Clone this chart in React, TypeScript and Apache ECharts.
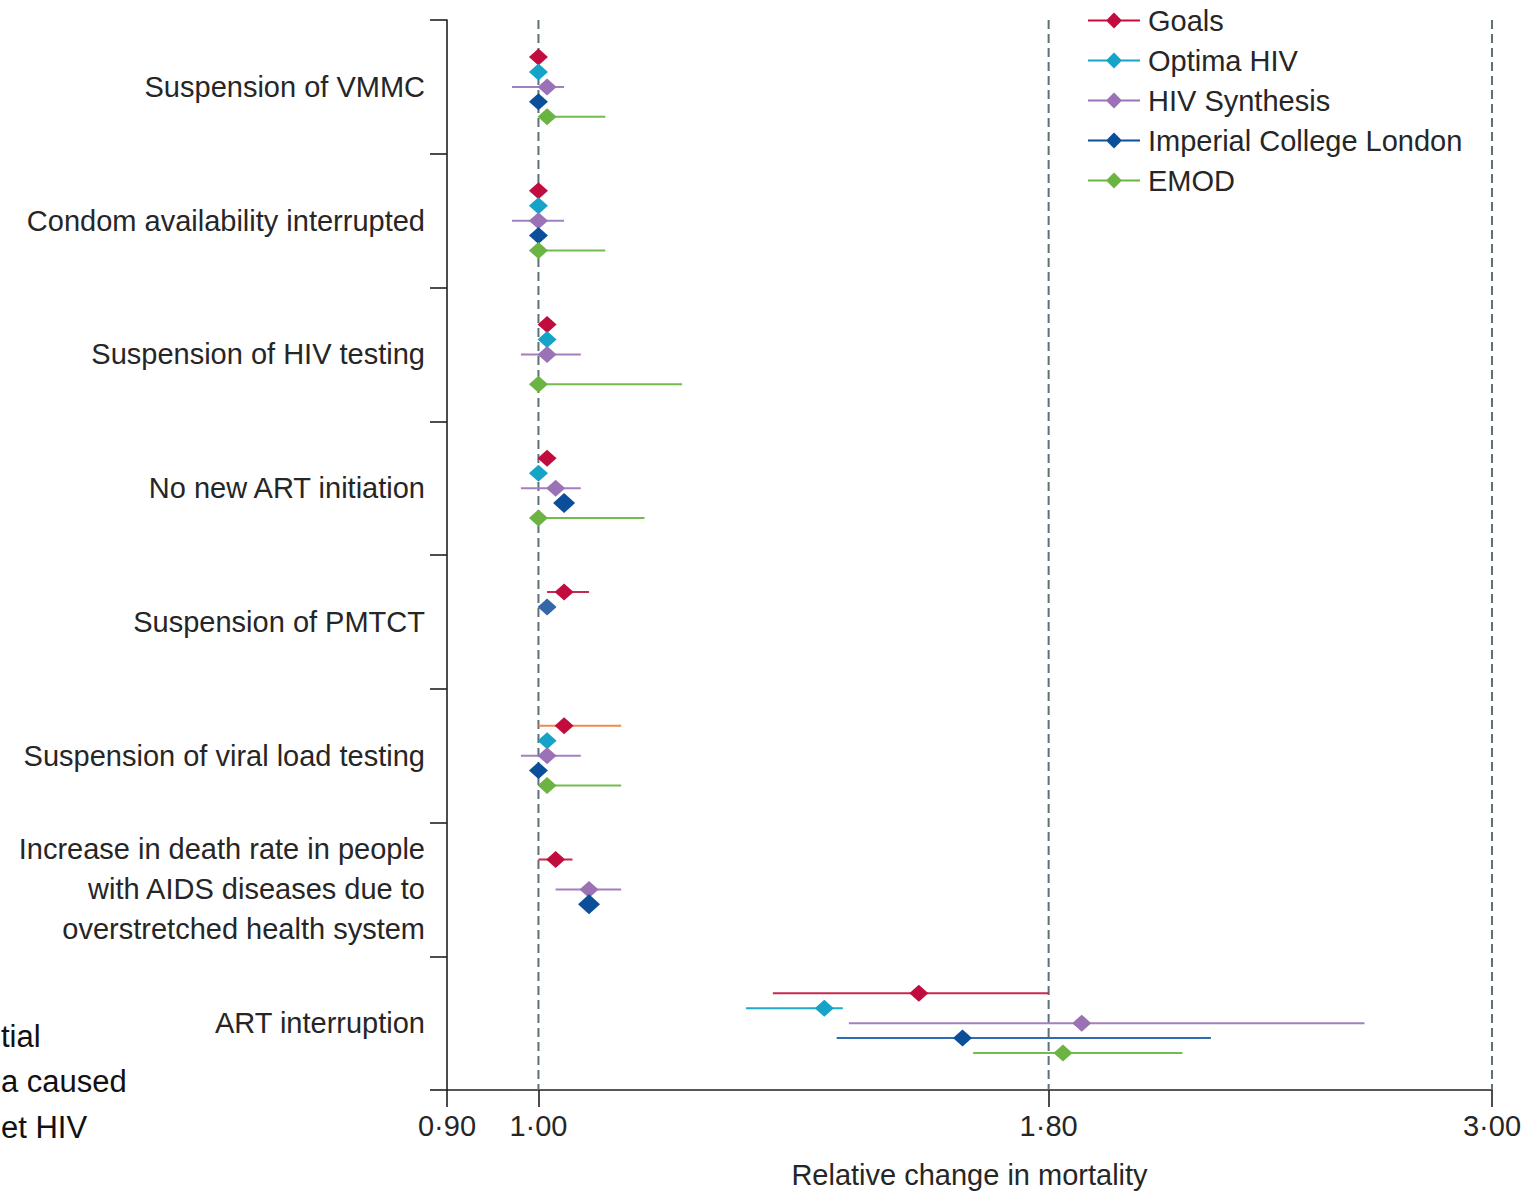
import React, { useEffect, useRef } from "react";
import * as echarts from "echarts";

// ---------- data ----------
const categories = [
  "Suspension of VMMC",
  "Condom availability interrupted",
  "Suspension of HIV testing",
  "No new ART initiation",
  "Suspension of PMTCT",
  "Suspension of viral load testing",
  "Increase in death rate in people\nwith AIDS diseases due to\noverstretched health system",
  "ART interruption",
];

const models = ["Goals", "Optima HIV", "HIV Synthesis", "Imperial College London", "EMOD"];

// relative change in mortality: estimate, lower bound, upper bound (null = not available)
const goalsEst = [1.0, 1.0, 1.01, 1.01, 1.03, 1.03, 1.02, 1.55];
const goalsLow = [null, null, null, null, 1.01, 1.0, 1.0, 1.31];
const goalsHigh = [null, null, null, null, 1.06, 1.1, 1.04, 1.8];

const optimaEst = [1.0, 1.0, 1.01, 1.0, 1.01, 1.01, null, 1.39];
const optimaLow = [null, null, null, null, null, null, null, 1.27];
const optimaHigh = [null, null, null, null, null, null, null, 1.42];

const synthesisEst = [1.01, 1.0, 1.01, 1.02, null, 1.01, 1.06, 1.87];
const synthesisLow = [0.97, 0.97, 0.98, 0.98, null, 0.98, 1.02, 1.43];
const synthesisHigh = [1.03, 1.03, 1.05, 1.05, null, 1.05, 1.1, 2.59];

const imperialEst = [1.0, 1.0, null, 1.03, null, 1.0, 1.06, 1.63];
const imperialLow = [null, null, null, null, null, null, null, 1.41];
const imperialHigh = [null, null, null, null, null, null, null, 2.17];

const emodEst = [1.01, 1.0, 1.0, 1.0, null, 1.01, null, 1.83];
const emodLow = [1.01, 1.0, 1.0, 1.0, null, 1.01, null, 1.65];
const emodHigh = [1.08, 1.08, 1.18, 1.13, null, 1.1, null, 2.1];

const tickValues = [0.9, 1.0, 1.8, 3.0];
const tickLabels = ["0·90", "1·00", "1·80", "3·00"];
const referenceLines = [1.0, 1.8, 3.0];

const sideText = ["tial", "a caused", "et HIV"];

// ---------- styles ----------
const estimates = [goalsEst, optimaEst, synthesisEst, imperialEst, emodEst];
const lows = [goalsLow, optimaLow, synthesisLow, imperialLow, emodLow];
const highs = [goalsHigh, optimaHigh, synthesisHigh, imperialHigh, emodHigh];

const diamondColors = ["#c10d3d", "#15a3c7", "#9a72b5", "#0b4f9a", "#6bb444"];
const lineColors = ["#c62a4e", "#22a8cc", "#a37fc0", "#2f6cb1", "#74bb4e"];
const overrides: Record<string, { line?: string; fill?: string; big?: boolean }> = {
  "0|5": { line: "#f08a4b" },
  "1|4": { fill: "#3466a8" },
  "3|3": { big: true },
  "3|6": { big: true },
};

const FONT = "'Liberation Sans', Arial, sans-serif";
const TEXT = "#262626";
const AXIS = "#231f20";
const SLOT_FRAC = 15 / 134.25;
const LEGEND_ICON =
  "path://M0,7 L52,7 L52,9 L0,9 Z M26,0 L34,8 L26,16 L18,8 Z";

function makeSeries(mi: number) {
  const data: number[][] = [];
  for (let c = 0; c < categories.length; c++) {
    const e = estimates[mi][c];
    if (e == null) continue;
    const lo = lows[mi][c] ?? e;
    const hi = highs[mi][c] ?? e;
    data.push([c, Math.log(e), Math.log(lo), Math.log(hi)]);
  }
  return {
    type: "custom",
    name: models[mi],
    data,
    z: 3,
    encode: { x: [1, 2, 3], y: 0 },
    itemStyle: { color: diamondColors[mi] },
    renderItem: (params: any, api: any) => {
      const c = api.value(0);
      const e = api.value(1);
      const lo = api.value(2);
      const hi = api.value(3);
      const p = api.coord([e, c]);
      const band = api.size([0, 1], [e, c])[1];
      const y = p[1] + (mi - 2) * band * SLOT_FRAC;
      const ov = overrides[mi + "|" + c] || {};
      const rx = ov.big ? 11 : 9.5;
      const ry = ov.big ? 10 : 8.5;
      const children: any[] = [];
      if (hi > lo) {
        const a = api.coord([lo, c])[0];
        const b = api.coord([hi, c])[0];
        children.push({
          type: "line",
          shape: { x1: a, y1: y, x2: b, y2: y },
          style: { stroke: ov.line || lineColors[mi], lineWidth: 2 },
        });
      }
      children.push({
        type: "polygon",
        shape: {
          points: [
            [p[0], y - ry],
            [p[0] + rx, y],
            [p[0], y + ry],
            [p[0] - rx, y],
          ],
        },
        style: { fill: ov.fill || diamondColors[mi] },
      });
      return { type: "group", children };
    },
  };
}

export default function App() {
  const ref = useRef<HTMLDivElement>(null);
  useEffect(() => {
    if (!ref.current) return;
    const chart = echarts.init(ref.current, null, { renderer: "svg" });
    const logTicks = tickValues.map((v) => Math.log(v));
    const xMin = Math.log(0.9);
    const xMax = Math.log(3);
    const option: any = {
      animation: false,
      backgroundColor: "#ffffff",
      textStyle: { fontFamily: FONT },
      grid: { left: 447, right: 35, top: 20, bottom: 100, containLabel: false },
      legend: {
        left: 1088,
        top: 6,
        orient: "vertical",
        padding: 0,
        itemWidth: 52,
        itemHeight: 16,
        itemGap: 11,
        selectedMode: false,
        textStyle: { fontSize: 29, color: TEXT, fontFamily: FONT, padding: [0, 0, 0, 3] },
        data: models.map((m) => ({ name: m, icon: LEGEND_ICON })),
      },
      xAxis: {
        type: "value",
        min: xMin,
        max: xMax,
        name: "Relative change in mortality",
        nameLocation: "middle",
        nameGap: 70,
        nameTextStyle: { fontSize: 29, color: TEXT, fontFamily: FONT },
        axisLine: { show: true, onZero: false, lineStyle: { color: AXIS, width: 1.6 } },
        axisTick: {
          show: true,
          length: 17,
          customValues: logTicks,
          lineStyle: { color: AXIS, width: 1.6 },
        },
        axisLabel: {
          customValues: logTicks,
          fontSize: 29,
          color: TEXT,
          fontFamily: FONT,
          margin: 21,
          formatter: (v: number) => {
            let best = 0;
            for (let i = 1; i < logTicks.length; i++) {
              if (Math.abs(logTicks[i] - v) < Math.abs(logTicks[best] - v)) best = i;
            }
            return tickLabels[best];
          },
        },
        splitLine: { show: false },
      },
      yAxis: {
        type: "category",
        data: categories,
        inverse: true,
        axisLine: { show: true, onZero: false, lineStyle: { color: AXIS, width: 1.6 } },
        axisTick: { show: true, length: 17, interval: 0, lineStyle: { color: AXIS, width: 1.6 } },
        axisLabel: {
          interval: 0,
          fontSize: 29,
          lineHeight: 40,
          color: TEXT,
          fontFamily: FONT,
          margin: 22,
        },
        splitLine: { show: false },
      },
      graphic: sideText.map((t, i) => ({
        type: "text",
        x: 1,
        y: 1036 + i * 45.5,
        style: {
          text: t,
          font: "31px 'Liberation Sans', Arial, sans-serif",
          fill: "#111111",
          verticalAlign: "middle",
        },
      })),
      series: [
        {
          type: "custom",
          name: "reference",
          z: 1,
          silent: true,
          clip: false,
          data: referenceLines.map((v) => [Math.log(v), 0]),
          encode: { x: 0, y: 1 },
          renderItem: (params: any, api: any) => {
            const x = api.coord([api.value(0), 0])[0];
            const cs = params.coordSys;
            return {
              type: "line",
              shape: { x1: x, y1: cs.y, x2: x, y2: cs.y + cs.height },
              style: { stroke: "#5e7179", lineWidth: 2, lineDash: [9, 5] },
            };
          },
        },
        ...models.map((_, i) => makeSeries(i)),
      ],
    };
    chart.setOption(option);
    return () => chart.dispose();
  }, []);
  return (
    <div
      ref={ref}
      style={{ position: "absolute", left: 0, top: 0, width: 1527, height: 1194 }}
    />
  );
}
